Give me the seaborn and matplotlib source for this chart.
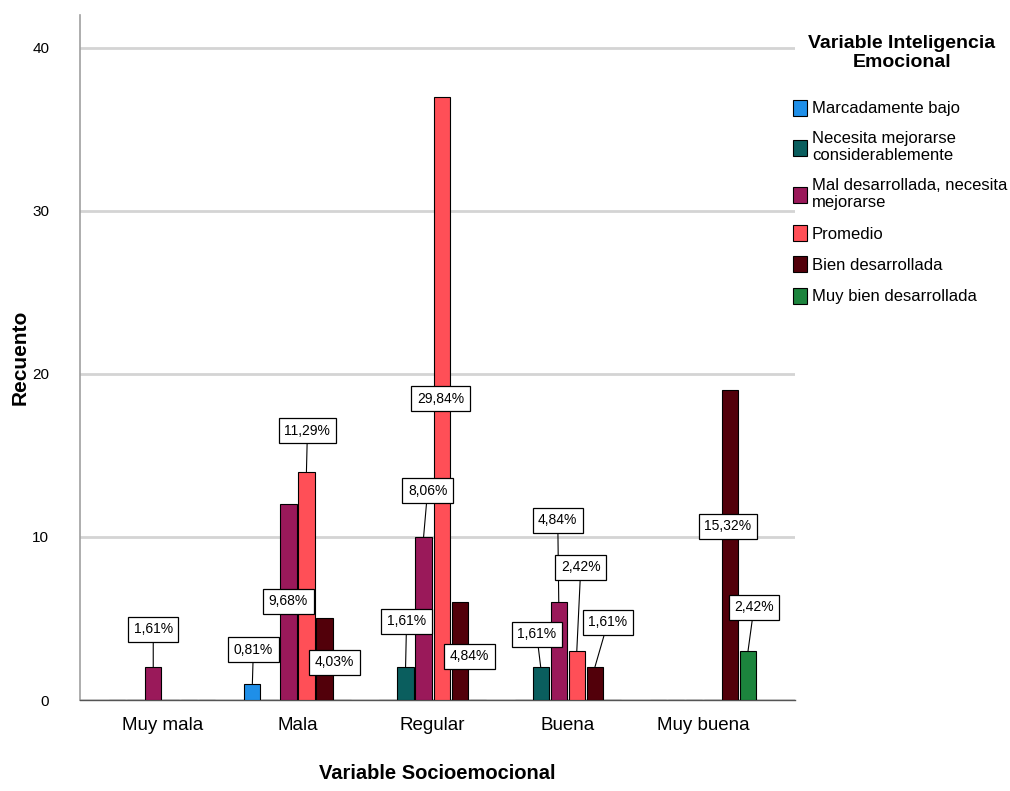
import pandas as pd
import seaborn as sns
import matplotlib.pyplot as plt

# --- data ---
socio_levels = ['Muy mala', 'Mala', 'Regular', 'Buena', 'Muy buena']
ie_levels = ['Marcadamente bajo', 'Necesita mejorarse considerablemente',
             'Mal desarrollada, necesita mejorarse', 'Promedio',
             'Bien desarrollada', 'Muy bien desarrollada']
legend_labels = ['Marcadamente bajo', 'Necesita mejorarse\nconsiderablemente',
                 'Mal desarrollada, necesita\nmejorarse', 'Promedio',
                 'Bien desarrollada', 'Muy bien desarrollada']

# counts per socio level (rows) and IE level (columns)
muy_mala = [0, 0, 2, 0, 0, 0]
mala = [1, 0, 12, 14, 5, 0]
regular = [0, 2, 10, 37, 6, 0]
buena = [0, 2, 6, 3, 2, 0]
muy_buena = [0, 0, 0, 0, 19, 3]

colors = ['#1f8fe8', '#0a5e5e', '#9a195a', '#ff4f57', '#52000a', '#1c843d']

# label box offsets (pixels) relative to bar top, by (socio, ie index)
label_offsets = {
    ('Muy mala', 2): (0, 38),
    ('Mala', 0): (1, 34), ('Mala', 2): (0, -97), ('Mala', 3): (1, 41), ('Mala', 4): (10, -44),
    ('Regular', 1): (1, 46), ('Regular', 2): (4, 46), ('Regular', 3): (-1, -302), ('Regular', 4): (10, -54),
    ('Buena', 1): (-4, 33), ('Buena', 2): (-1, 82), ('Buena', 3): (4, 84), ('Buena', 4): (13, 45),
    ('Muy buena', 4): (-2, -136), ('Muy buena', 5): (6, 44),
}

rows = []
for socio, counts in zip(socio_levels, [muy_mala, mala, regular, buena, muy_buena]):
    for ie, c in zip(ie_levels, counts):
        rows.append({'socio': socio, 'ie': ie, 'n': c})
df = pd.DataFrame(rows)
total = df['n'].sum()

# --- plot ---
sns.set_style('white')
plt.rcParams['font.family'] = ['Liberation Sans', 'DejaVu Sans']
plt.rcParams['text.color'] = 'black'
plt.rcParams['axes.labelcolor'] = 'black'
plt.rcParams['xtick.color'] = 'black'
plt.rcParams['ytick.color'] = 'black'

fig = plt.figure(figsize=(10.1, 7.91), dpi=100)
ax = fig.add_axes([0.079, 0.115, 0.708, 0.866])

sns.barplot(data=df, x='socio', y='n', hue='ie', order=socio_levels, hue_order=ie_levels,
            palette=colors, saturation=1, width=0.8, gap=0.1, edgecolor='black', linewidth=0.8,
            dodge=True, ax=ax, legend=True, zorder=3)

ax.set_ylim(0, 42)
ax.set_xlim(-0.61, 4.68)
ax.set_yticks([0, 10, 20, 30, 40])
ax.yaxis.grid(True, color='#d4d4d4', linewidth=2, zorder=0)
ax.set_axisbelow(True)
for s in ['top', 'right']:
    ax.spines[s].set_visible(False)
ax.spines['left'].set_color('#a0a0a0')
ax.spines['left'].set_linewidth(1.2)
ax.spines['bottom'].set_color('#555555')
ax.spines['bottom'].set_linewidth(1.0)
ax.tick_params(axis='y', length=0, pad=22, labelsize=11)
ax.tick_params(axis='x', length=0, pad=12, labelsize=13.5)

ax.set_xlabel('Variable Socioemocional', fontsize=14.5, fontweight='bold', labelpad=22)
ax.set_ylabel('Recuento', fontsize=15, fontweight='bold', labelpad=2)

# percentage labels
for i, cont in enumerate(ax.containers):
    for j, bar in enumerate(cont):
        h = bar.get_height()
        if h <= 0:
            continue
        key = (socio_levels[j], i)
        dx, dy = label_offsets.get(key, (0, 30))
        x = bar.get_x() + bar.get_width() / 2
        pct = f'{h / total * 100:.2f}'.replace('.', ',') + '%'
        arrow = dict(arrowstyle='-', color='black', lw=0.8, shrinkA=0, shrinkB=0) if dy > 0 else None
        ax.annotate(pct, xy=(x, h), xytext=(dx, dy), textcoords='offset pixels',
                    ha='center', va='center', fontsize=10, zorder=5,
                    bbox=dict(boxstyle='square,pad=0.4', fc='white', ec='black', lw=0.9),
                    arrowprops=arrow)

# legend
handles, _ = ax.get_legend_handles_labels()
for hd in handles:
    hd.set_edgecolor('black')
ax.get_legend().remove()
fig.text(0.893, 0.933, 'Variable Inteligencia\nEmocional', ha='center', va='center',
         fontsize=14, fontweight='bold', multialignment='center', linespacing=1.1)
fig.legend(handles, legend_labels, loc='upper left', bbox_to_anchor=(0.785, 0.874),
           frameon=False, fontsize=12, handlelength=0.85, handleheight=1.1,
           handletextpad=0.3, labelspacing=0.88, borderaxespad=0, borderpad=0)

fig.savefig('out.png', dpi=100)
